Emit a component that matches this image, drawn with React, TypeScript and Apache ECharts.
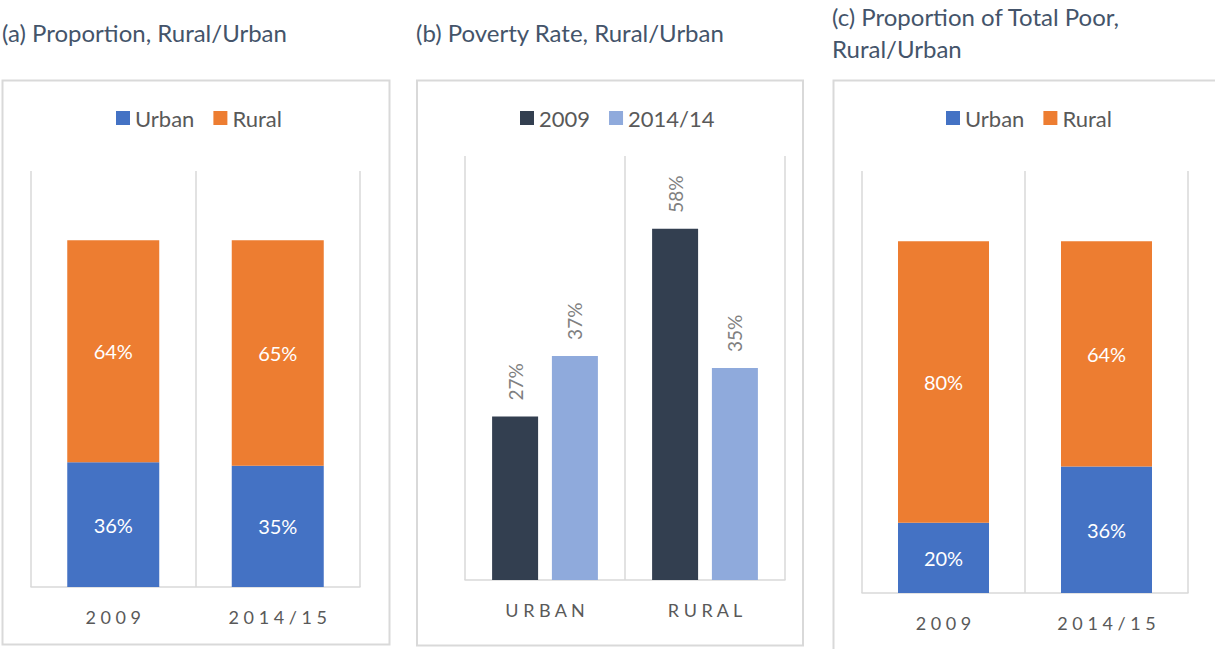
import React, { useEffect, useRef } from "react";
import * as echarts from "echarts";

const propCategories = ["2009", "2014/15"];
const propUrban = [0.36, 0.35];
const propRural = [0.64, 0.65];

const rateCategories = ["URBAN", "RURAL"];
const rate2009 = [0.27, 0.58];
const rate2014 = [0.37, 0.35];

const poorCategories = ["2009", "2014/15"];
const poorUrban = [0.2, 0.36];
const poorRural = [0.8, 0.64];

const titles = [
  "(a) Proportion, Rural/Urban",
  "(b) Poverty Rate, Rural/Urban",
  "(c) Proportion of Total Poor,\nRural/Urban",
];

const FONT = 'Lato, "Noto Sans", sans-serif';
const GRID_COLOR = "#d9d9d9";
const BLUE = "#4472c4";
const ORANGE = "#ed7d31";
const DARK = "#333f50";
const LIGHT = "#8faadc";

const pct = (p: any) => Math.round(p.value * 100) + "%";
const spaced = (v: string) => v.split("").join(" ");

function xAxisCfg(gridIndex: number, data: string[]) {
  return {
    type: "category",
    gridIndex,
    data,
    axisLine: { show: true, lineStyle: { color: GRID_COLOR, width: 1.5 } },
    axisTick: { show: false },
    splitLine: { show: true, lineStyle: { color: GRID_COLOR, width: 1.5 } },
    axisLabel: {
      margin: 21,
      color: "#595959",
      fontSize: 18,
      fontFamily: FONT,
      formatter: spaced,
    },
  };
}

function yAxisCfg(gridIndex: number, max: number) {
  return { type: "value", gridIndex, min: 0, max, show: false, splitLine: { show: false } };
}

const insideLabel = {
  show: true,
  position: "inside",
  color: "#ffffff",
  fontSize: 20,
  fontFamily: FONT,
  formatter: pct,
};

const topLabel = {
  show: true,
  position: "top",
  rotate: 90,
  align: "left",
  verticalAlign: "middle",
  distance: 16,
  color: "#808080",
  fontSize: 19,
  fontFamily: FONT,
  formatter: pct,
};

const legendCfg = (left: number, data: string[]) => ({
  left,
  top: 107,
  padding: 0,
  itemWidth: 14,
  itemHeight: 14,
  itemGap: 19,
  icon: "rect",
  data,
  textStyle: { fontSize: 22, color: "#595959", fontFamily: FONT },
  selectedMode: false,
});

export default function App() {
  const ref = useRef<HTMLDivElement>(null);
  useEffect(() => {
    if (!ref.current) return;
    const chart = echarts.init(ref.current, undefined, { renderer: "svg" });
    const titleStyle = {
      fontSize: 24,
      fontWeight: "normal",
      color: "#44546a",
      fontFamily: FONT,
      lineHeight: 32,
    };
    chart.setOption({
      animation: false,
      backgroundColor: "#ffffff",
      title: [
        { text: titles[0], left: 2, top: 16, padding: 0, textStyle: titleStyle },
        { text: titles[1], left: 416, top: 16, padding: 0, textStyle: titleStyle },
        { text: titles[2], left: 832, top: 0, padding: 0, textStyle: titleStyle },
      ],
      graphic: [
        {
          type: "rect",
          shape: { x: 2.5, y: 80.5, width: 387, height: 564 },
          style: { fill: "none", stroke: GRID_COLOR, lineWidth: 2 },
          silent: true,
        },
        {
          type: "rect",
          shape: { x: 417, y: 80.5, width: 386, height: 565 },
          style: { fill: "none", stroke: GRID_COLOR, lineWidth: 2 },
          silent: true,
        },
        {
          type: "rect",
          shape: { x: 833.5, y: 80.5, width: 392, height: 600 },
          style: { fill: "none", stroke: GRID_COLOR, lineWidth: 2 },
          silent: true,
        },
      ],
      legend: [
        legendCfg(116, ["Urban", "Rural"]),
        legendCfg(520, ["2009", "2014/14"]),
        legendCfg(946, ["Urban", "Rural"]),
      ],
      grid: [
        { left: 31, top: 171, width: 329, height: 416 },
        { left: 465, top: 156, width: 320, height: 424 },
        { left: 862, top: 171, width: 326, height: 422 },
      ],
      xAxis: [
        xAxisCfg(0, propCategories),
        xAxisCfg(1, rateCategories),
        xAxisCfg(2, poorCategories),
      ],
      yAxis: [yAxisCfg(0, 1.2), yAxisCfg(1, 0.7), yAxisCfg(2, 1.2)],
      series: [
        {
          name: "Urban",
          type: "bar",
          stack: "a",
          xAxisIndex: 0,
          yAxisIndex: 0,
          barWidth: 92,
          data: propUrban,
          itemStyle: { color: BLUE },
          label: insideLabel,
        },
        {
          name: "Rural",
          type: "bar",
          stack: "a",
          xAxisIndex: 0,
          yAxisIndex: 0,
          barWidth: 92,
          data: propRural,
          itemStyle: { color: ORANGE },
          label: insideLabel,
        },
        {
          name: "2009",
          type: "bar",
          xAxisIndex: 1,
          yAxisIndex: 1,
          barWidth: 46,
          barGap: "30%",
          data: rate2009,
          itemStyle: { color: DARK },
          label: topLabel,
        },
        {
          name: "2014/14",
          type: "bar",
          xAxisIndex: 1,
          yAxisIndex: 1,
          barWidth: 46,
          barGap: "30%",
          data: rate2014,
          itemStyle: { color: LIGHT },
          label: topLabel,
        },
        {
          name: "Urban",
          type: "bar",
          stack: "c",
          xAxisIndex: 2,
          yAxisIndex: 2,
          barWidth: 91,
          data: poorUrban,
          itemStyle: { color: BLUE },
          label: insideLabel,
        },
        {
          name: "Rural",
          type: "bar",
          stack: "c",
          xAxisIndex: 2,
          yAxisIndex: 2,
          barWidth: 91,
          data: poorRural,
          itemStyle: { color: ORANGE },
          label: insideLabel,
        },
      ],
    });
    return () => chart.dispose();
  }, []);
  return (
    <div
      ref={ref}
      style={{ position: "fixed", left: 0, top: 0, width: 1215, height: 649, background: "#fff" }}
    />
  );
}
